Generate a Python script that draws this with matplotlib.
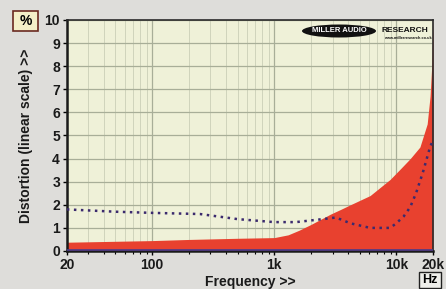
import numpy as np
import matplotlib.pyplot as plt
from matplotlib.patches import Ellipse, Rectangle
from matplotlib.ticker import FixedLocator, NullFormatter

# distortion fill (red area)
freq_fill = [20, 50, 100, 200, 500, 1000, 1300, 1600, 2000, 2900, 3500, 4200,
             6100, 8900, 11000, 13000, 15600, 17900, 18900, 19500, 20000]
dist_fill = [0.38, 0.42, 0.45, 0.5, 0.55, 0.58, 0.7, 0.9, 1.15, 1.6, 1.8, 2.0,
             2.4, 3.1, 3.6, 4.0, 4.5, 5.5, 6.7, 8.0, 10.0]

# dotted trace
freq_dot = [20, 50, 100, 246, 500, 1000, 1500, 2500, 3200, 4200, 6100, 8900,
            10000, 11500, 13000, 14500, 16500, 18900, 20000]
dist_dot = [1.8, 1.7, 1.65, 1.6, 1.38, 1.25, 1.25, 1.38, 1.45, 1.2, 1.0, 1.0,
            1.2, 1.5, 1.9, 2.5, 3.4, 4.5, 4.8]

xticks = [20, 100, 1000, 10000, 20000]
xlabels = ["20", "100", "1k", "10k", "20k"]

plt.rcParams['font.family'] = ['Liberation Sans', 'DejaVu Sans']

fig = plt.figure(figsize=(4.46, 2.89), dpi=100)
fig.patch.set_facecolor('#dedddA')
ax = fig.add_axes([0.150, 0.1315, 0.821, 0.7995])
ax.set_facecolor('#eff1d8')

ax.set_xscale('log')
ax.set_xlim(20, 20000)
ax.set_ylim(0, 10)

ax.fill_between(freq_fill, 0, dist_fill, color='#e8412f', lw=0, zorder=2)
ax.plot(freq_dot, dist_dot, ls=(0, (1, 1.8)), color='#3b2a6e', lw=1.8, zorder=3)
ax.axhline(0.03, color='#4a3a8a', lw=1.2, zorder=3)

ax.set_yticks(range(0, 11))
ax.set_xticks(xticks)
ax.set_xticklabels(xlabels)
minors = [f for d in [10, 100, 1000, 10000] for f in range(2 * d, 10 * d + 1, d) if 20 < f < 20000]
ax.xaxis.set_minor_locator(FixedLocator(minors))
ax.xaxis.set_minor_formatter(NullFormatter())

ax.grid(True, which='major', color='#a8ae98', lw=0.9, zorder=1)
ax.grid(True, which='minor', axis='x', color='#d0d4bc', lw=0.7, zorder=1)
ax.set_axisbelow(True)

for lab in ax.get_xticklabels() + ax.get_yticklabels():
    lab.set_fontweight('bold')
    lab.set_fontsize(10)
    lab.set_color('#1a1a1a')
ax.tick_params(axis='y', length=3, width=1, pad=2)
ax.tick_params(axis='x', which='major', length=3, width=1, pad=2)
ax.tick_params(axis='x', which='minor', length=2, width=0.8)

for s in ['left', 'bottom']:
    ax.spines[s].set_linewidth(1.8)
    ax.spines[s].set_color('#1a1a1a')
for s in ['top', 'right']:
    ax.spines[s].set_linewidth(1.2)
    ax.spines[s].set_color('#2a2a2a')

ax.set_xlabel("Frequency >>", fontsize=10, fontweight='bold', labelpad=2, color='#1a1a1a')
ax.set_ylabel("Distortion (linear scale) >>", fontsize=10, fontweight='bold', labelpad=8, color='#1a1a1a')

# unit boxes
fig.patches.append(Rectangle((13 / 446, 1 - 31 / 289), 25 / 446, 20 / 289, transform=fig.transFigure,
                             facecolor='#f4efc8', edgecolor='#6a2a20', lw=1.2))
fig.text(25.5 / 446, 1 - 21 / 289, "%", ha='center', va='center', fontsize=10, fontweight='bold')
fig.patches.append(Rectangle((419 / 446, 1 - 288 / 289), 22 / 446, 16 / 289, transform=fig.transFigure,
                             facecolor='#eeeeea', edgecolor='#222222', lw=1.0))
fig.text(430 / 446, 1 - 280 / 289, "Hz", ha='center', va='center', fontsize=9, fontweight='bold')

# logo
fig.patches.append(Ellipse((339 / 446, 1 - 31 / 289), 74 / 446, 13 / 289, transform=fig.transFigure,
                           facecolor='#111111', edgecolor='none'))
fig.text(339 / 446, 1 - 31 / 289, "MILLER AUDIO", ha='center', va='center', fontsize=5.5,
         fontweight='bold', color='white')
fig.text(405 / 446, 1 - 31 / 289, "RESEARCH", ha='center', va='center', fontsize=6,
         fontweight='bold', color='#111111')
fig.text(408 / 446, 1 - 38 / 289, "www.millerresearch.co.uk", ha='center', va='center', fontsize=2.8,
         fontweight='bold', color='#111111')

fig.savefig('out.png', dpi=100, facecolor=fig.get_facecolor())
